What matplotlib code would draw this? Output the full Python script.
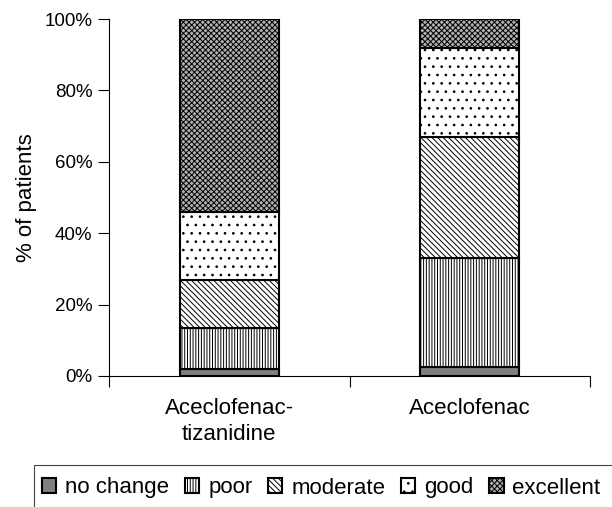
import matplotlib.pyplot as plt
import numpy as np
from matplotlib.patches import Rectangle

plt.rcParams['font.family'] = ['Liberation Sans', 'DejaVu Sans']
plt.rcParams['hatch.linewidth'] = 0.7

groups = ["Aceclofenac-\ntizanidine", "Aceclofenac"]
levels = ["no change", "poor", "moderate", "good", "excellent"]
no_change = [2.0, 2.5]
poor = [11.4, 30.5]
moderate = [13.4, 34.0]
good = [19.2, 25.0]
excellent = [54.0, 8.0]

series = [no_change, poor, moderate, good, excellent]
faces = ["#808080", "white", "white", "white", "#b0b0b0"]
hatches = [None, "||||||", "\\\\\\\\\\\\", "..", "xxxxxx"]

fig = plt.figure(figsize=(6.12, 5.07), dpi=100)
ax = fig.add_axes([109/612, 1 - 376/507, 481/612, 357/507])

x = np.arange(len(groups))
bottom = np.zeros(len(groups))
handles = []
for vals, fc, h, name in zip(series, faces, hatches, levels):
    b = ax.bar(x, vals, 0.41, bottom=bottom, facecolor=fc, hatch=h,
               edgecolor="black", linewidth=1.5, label=name)
    handles.append(b)
    bottom += np.array(vals)

ax.set_xlim(-0.5, 1.5)
ax.set_ylim(0, 100)
ax.set_yticks(range(0, 101, 20))
ax.set_yticklabels([f"{v}%" for v in range(0, 101, 20)])
ax.set_xticks([-0.5, 0.5, 1.5])
ax.set_xticklabels([])
ax.set_xticks(x, minor=True)
ax.set_xticklabels(groups, minor=True, linespacing=1.3)
ax.tick_params(axis="x", which="major", length=8, width=0.8, direction="out")
ax.tick_params(axis="x", which="minor", length=0, pad=16, labelsize=16)
ax.tick_params(axis="y", length=8, width=0.8, labelsize=13.5, pad=4)
for s in ["top", "right"]:
    ax.spines[s].set_visible(False)
ax.spines["left"].set_linewidth(0.8)
ax.spines["bottom"].set_linewidth(0.8)
ax.set_ylabel("% of patients", fontsize=16, labelpad=5)

# legend box, open on the right and bottom edges
fig.patches.append(Rectangle((34/612, -0.1), 1.0, 1 - 465/507 + 0.1,
                             transform=fig.transFigure, facecolor="none",
                             edgecolor="#444444", linewidth=0.8))
fig.legend(handles=handles, loc="center left",
           bbox_to_anchor=(42/612, 1 - 488/507), ncol=5, frameon=False,
           fontsize=16, handlelength=0.65, handleheight=0.65,
           handletextpad=0.4, columnspacing=0.7, borderaxespad=0,
           borderpad=0)

fig.savefig("out.png", dpi=100)
